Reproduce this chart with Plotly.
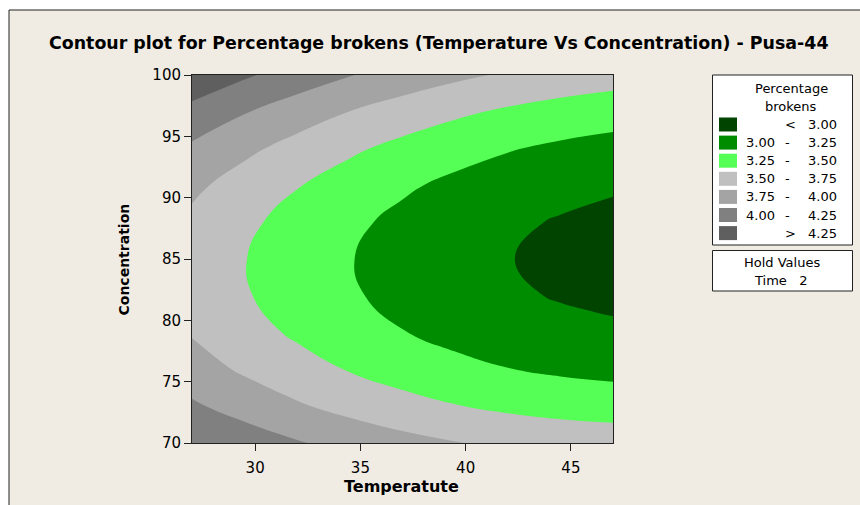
import plotly.graph_objects as go

# ---- data ----
temperature = [27, 29.5, 32, 34.5, 37, 39.5, 42, 44.5, 47]
concentration = [70, 73, 76, 79, 82, 85, 88, 91, 94, 97, 100]
# Percentage brokens (rows = concentration, cols = temperature), Time held at 2
brokens = [
    [4.240, 4.139, 4.020, 3.917, 3.830, 3.759, 3.704, 3.665, 3.641],
    [4.037, 3.899, 3.778, 3.673, 3.583, 3.510, 3.452, 3.410, 3.384],
    [3.856, 3.716, 3.593, 3.485, 3.393, 3.316, 3.256, 3.212, 3.183],
    [3.732, 3.590, 3.463, 3.353, 3.258, 3.180, 3.117, 3.070, 3.039],
    [3.664, 3.520, 3.391, 3.278, 3.180, 3.099, 3.034, 2.984, 2.951],
    [3.653, 3.506, 3.374, 3.259, 3.159, 3.075, 3.007, 2.955, 2.919],
    [3.698, 3.548, 3.414, 3.296, 3.194, 3.108, 3.037, 2.983, 2.944],
    [3.800, 3.647, 3.511, 3.390, 3.285, 3.196, 3.124, 3.066, 3.025],
    [3.958, 3.803, 3.664, 3.540, 3.433, 3.342, 3.266, 3.206, 3.163],
    [4.172, 4.014, 3.873, 3.747, 3.637, 3.543, 3.465, 3.403, 3.357],
    [4.443, 4.283, 4.139, 4.010, 3.898, 3.801, 3.721, 3.656, 3.607],
]
level_breaks = [3.00, 3.25, 3.50, 3.75, 4.00, 4.25]
band_colors = ["#004400", "#008C00", "#55FF55", "#C0C0C0", "#A4A4A4", "#808080", "#5F5F5F"]
x_ticks = [30, 35, 40, 45]
y_ticks = [70, 75, 80, 85, 90, 95, 100]
hold_name, hold_value = "Time", 2

# ---- layout geometry (pixels) ----
W, H = 860, 505
PL, PR, PT, PB = 192, 613, 75, 443
FONT = "DejaVu Sans"
BEIGE = "#F0ECE3"


def fx(px):
    return (px - PL) / (PR - PL)


def fy(py):
    return 1 - (py - PT) / (PB - PT)


# stepwise colorscale: band k is sampled at k/(n-1)
n = len(band_colors)
colorscale = []
for k, col in enumerate(band_colors):
    lo = max(0.0, (k - 0.5) / (n - 1))
    hi = min(1.0, (k + 0.5) / (n - 1))
    colorscale += [[lo, col], [hi, col]]

step = level_breaks[1] - level_breaks[0]
fig = go.Figure(go.Contour(
    x=temperature, y=concentration, z=brokens,
    colorscale=colorscale, showscale=False,
    contours=dict(start=level_breaks[0], end=level_breaks[-1], size=step,
                  coloring="fill", showlines=False),
    line=dict(width=0, smoothing=1.3),
    hoverinfo="skip",
))

shapes = [
    dict(type="rect", xref="paper", yref="paper", layer="below",
         x0=fx(9), x1=fx(880), y0=fy(530), y1=fy(10),
         fillcolor=BEIGE, line=dict(color="#222222", width=1)),
    # legend box
    dict(type="rect", xref="paper", yref="paper",
         x0=fx(712.5), x1=fx(852.5), y0=fy(245), y1=fy(75),
         fillcolor="white", line=dict(color="#222222", width=1)),
    # hold values box
    dict(type="rect", xref="paper", yref="paper",
         x0=fx(712.5), x1=fx(852.5), y0=fy(291), y1=fy(250.5),
         fillcolor="white", line=dict(color="#222222", width=1)),
]

annotations = [
    dict(text="<b>Contour plot for Percentage brokens (Temperature Vs Concentration) - Pusa-44</b>",
         x=fx(438.5), y=fy(43.5), xref="paper", yref="paper", showarrow=False,
         xanchor="center", yanchor="middle", font=dict(family=FONT, size=17.4, color="black")),
    dict(text="<b>Temperatute</b>", x=fx(401), y=fy(486), xref="paper", yref="paper",
         showarrow=False, xanchor="center", yanchor="middle",
         font=dict(family=FONT, size=16, color="black")),
    dict(text="<b>Concentration</b>", x=fx(123.5), y=fy(260), xref="paper", yref="paper",
         showarrow=False, xanchor="center", yanchor="middle", textangle=-90,
         font=dict(family=FONT, size=14, color="black")),
    dict(text="Percentage", x=fx(791), y=fy(88), xref="paper", yref="paper",
         showarrow=False, xanchor="center", yanchor="middle",
         font=dict(family=FONT, size=13, color="black")),
    dict(text="brokens", x=fx(791), y=fy(106.5), xref="paper", yref="paper",
         showarrow=False, xanchor="center", yanchor="middle",
         font=dict(family=FONT, size=13, color="black")),
    dict(text="Hold Values", x=fx(782), y=fy(262.5), xref="paper", yref="paper",
         showarrow=False, xanchor="center", yanchor="middle",
         font=dict(family=FONT, size=13, color="black")),
    dict(text=f"{hold_name}   {hold_value}", x=fx(780), y=fy(280.5), xref="paper", yref="paper",
         showarrow=False, xanchor="center", yanchor="middle",
         font=dict(family=FONT, size=13, color="black")),
]

lf = dict(family=FONT, size=13, color="black")
for k, col in enumerate(band_colors):
    cy = 124.5 + 18.1 * k
    shapes.append(dict(type="rect", xref="paper", yref="paper",
                       x0=fx(719), x1=fx(737), y0=fy(cy + 7), y1=fy(cy - 7),
                       fillcolor=col, line=dict(width=0)))
    if k == 0:
        parts = [("<", 790, "center"), (f"{level_breaks[0]:.2f}", 839, "right")]
    elif k == n - 1:
        parts = [(">", 790, "center"), (f"{level_breaks[-1]:.2f}", 839, "right")]
    else:
        parts = [(f"{level_breaks[k-1]:.2f}", 777, "right"), ("-", 787, "center"),
                 (f"{level_breaks[k]:.2f}", 839, "right")]
    for txt, px, anc in parts:
        annotations.append(dict(text=txt, x=fx(px), y=fy(cy), xref="paper", yref="paper",
                                showarrow=False, xanchor=anc, yanchor="middle", font=lf))

axis_common = dict(showgrid=False, zeroline=False, showline=True, mirror=True,
                   linecolor="#222222", linewidth=1, ticks="outside", ticklen=7,
                   tickcolor="#222222", tickwidth=1,
                   tickfont=dict(family=FONT, size=15, color="black"))

fig.update_layout(
    width=W, height=H,
    margin=dict(l=PL, r=W - PR, t=PT, b=H - PB, pad=0),
    paper_bgcolor="white", plot_bgcolor=BEIGE,
    xaxis=dict(range=[27, 47], tickvals=x_ticks, ticklabelstandoff=4, **axis_common),
    yaxis=dict(range=[70, 100], tickvals=y_ticks, **axis_common),
    shapes=shapes, annotations=annotations, showlegend=False,
)

fig.write_html("out.html")
